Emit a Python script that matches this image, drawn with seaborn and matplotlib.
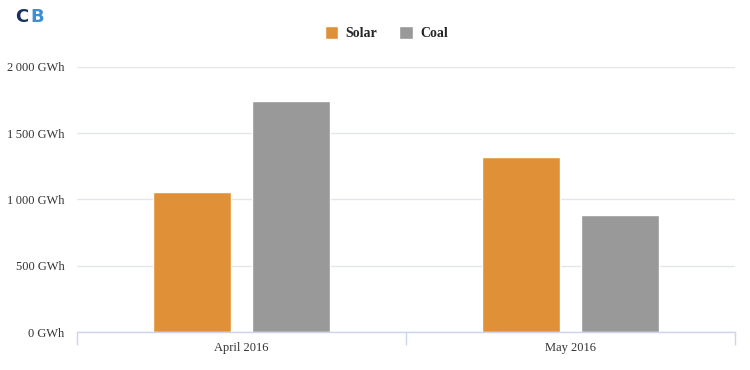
import pandas as pd
import matplotlib.pyplot as plt
import seaborn as sns
from matplotlib.ticker import FixedLocator, FuncFormatter
from matplotlib.patches import Patch

# Data
months = ["April 2016", "May 2016"]
solar_gwh = [1057, 1321]
coal_gwh = [1743, 883]
y_ticks = [0, 500, 1000, 1500, 2000]

df = pd.DataFrame({
    "Month": months * 2,
    "Source": ["Solar"] * len(months) + ["Coal"] * len(months),
    "GWh": solar_gwh + coal_gwh,
})

sns.set_theme(style="white")
plt.rcParams["font.family"] = ["Liberation Serif", "DejaVu Serif"]

fig = plt.figure(figsize=(7.5, 3.7), dpi=100)
ax = fig.add_axes([0.1027, 0.1027, 0.8773, 0.7163])

sns.barplot(data=df, x="Month", y="GWh", hue="Source",
            palette={"Solar": "#e09138", "Coal": "#999999"},
            width=0.6, gap=0.21, saturation=1, ax=ax, legend=False)

ax.set_ylim(0, 2000)
ax.set_xlim(-0.5, 1.5)
ax.yaxis.set_major_locator(FixedLocator(y_ticks))
ax.yaxis.set_major_formatter(FuncFormatter(
    lambda v, p: f"{int(v):,}".replace(",", "\u2009") + " GWh"))
ax.grid(axis="y", color="#e3e6ea", linewidth=1)
ax.set_axisbelow(True)

for side in ["top", "right", "left"]:
    ax.spines[side].set_visible(False)
ax.spines["bottom"].set_color("#ccd6eb")
ax.spines["bottom"].set_linewidth(1)

ax.tick_params(axis="y", length=0, labelsize=9, labelcolor="#333333", pad=9)
ax.tick_params(axis="x", which="major", length=0, labelsize=9,
               labelcolor="#333333", pad=7)
# tick marks on category boundaries
ax.xaxis.set_minor_locator(FixedLocator([-0.5, 0.5, 1.5]))
ax.tick_params(axis="x", which="minor", bottom=True, length=9,
               color="#ccd6eb", width=1, direction="out")
ax.set_xlabel("")
ax.set_ylabel("")

# legend
handles = [Patch(facecolor="#e09138", label="Solar"),
           Patch(facecolor="#999999", label="Coal")]
fig.legend(handles=handles, loc="center", bbox_to_anchor=(0.515, 0.91),
           ncol=2, frameon=False, prop={"weight": "bold", "size": 10},
           handlelength=1.0, handleheight=1.0, columnspacing=1.6,
           handletextpad=0.5)

# logo
fig.text(0.02, 0.955, "C", color="#16325c", fontsize=13, fontweight="bold",
         family="DejaVu Sans", va="center")
fig.text(0.041, 0.955, "B", color="#3d8fd1", fontsize=13, fontweight="bold",
         family="DejaVu Sans", va="center")

fig.savefig("out.png", dpi=100)
